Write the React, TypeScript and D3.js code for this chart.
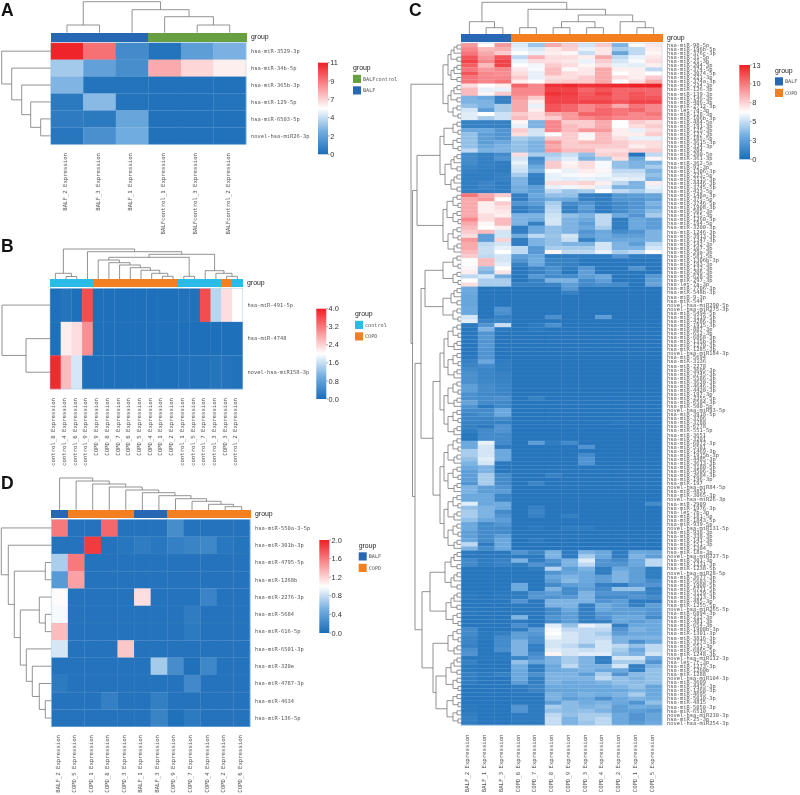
import React from "react";
import * as d3 from "d3";

type Tree = number | any[];

// ---------- Panel A ----------
const aCols = ["BALF_2 Expression","BALF_3 Expression","BALF_1 Expression","BALFcontrol_1 Expression","BALFcontrol_3 Expression","BALFcontrol_2 Expression"];
const aRows = ["hsa-miR-3529-3p","hsa-miR-34b-5p","hsa-miR-365b-3p","hsa-miR-129-5p","hsa-miR-6503-5p","novel-hsa-miR26-3p"];
const aGroups = ["BALF","BALF","BALF","BALFcontrol","BALFcontrol","BALFcontrol"];
const aValues = [
  [10.9,9,1.3,0.3,2.1,2.9],
  [3.7,2.2,1.4,7.6,6.5,5.9],
  [3,0.3,0.3,0.2,0.2,0.2],
  [0.5,3.2,0.3,0.2,0.2,0.3],
  [0.6,0.5,2.4,0.2,0.2,0.2],
  [0.4,1.5,2.7,0.2,0.2,0.2],
];
const aColTree: Tree = [31,[7.7,0,0],[23,0,[16,0,[7.7,0,0]]]];
const aRowTree: Tree = [49,0,[39,0,[29,0,[20,0,[10,0,0]]]]];
const aTicks = [0,2.2,4.4,6.6,8.8,11];
const aTickLabels = ["0","2","4","7","9","11"];

// ---------- Panel B ----------
const bCols = ["control_8","control_4","control_6","control_9","COPD_9","COPD_8","COPD_7","COPD_6","COPD_5","COPD_4","COPD_1","COPD_2","control_1","control_5","control_7","control_3","COPD_3","control_2"].map(s=>s+" Expression");
const bRows = ["hsa-miR-491-5p","hsa-miR-4748","novel-hsa-miR158-3p"];
const bGroups = ["control","control","control","control","COPD","COPD","COPD","COPD","COPD","COPD","COPD","COPD","control","control","control","control","COPD","control"];
const bValues = [
  [0.05,0.12,0.05,3.6,0.05,0.05,0.05,0.05,0.05,0.05,0.05,0.05,0.08,0.08,3.6,1.5,2.3,2.02],
  [0.05,2.15,2.3,3,0.05,0.05,0.05,0.05,0.05,0.05,0.05,0.05,0.05,0.05,0.05,0.05,0.05,0.05],
  [3.9,2.6,1.7,0.05,0.05,0.05,0.05,0.05,0.05,0.05,0.05,0.05,0.07,0.07,0.07,0.12,0.1,0.07],
];
const bColTree: Tree = [30,[5.7,0,[2.5,0,0]],[27.3,0,[24.7,[21.7,[19,0,[16.3,0,[14,0,[11.3,0,[8.7,0,[5.7,0,[2.7,0,0]]]]]]],[2.7,0,0]],[8.3,0,[5.7,0,[2.7,0,0]]]]]];
const bRowTree: Tree = [48,0,[24,0,0]];
const bTicks = [0,0.8,1.6,2.4,3.2,4];
const bTickLabels = ["0.0","0.8","1.6","2.4","3.2","4.0"];

// ---------- Panel D ----------
const dCols = ["BALF_2","COPD_5","COPD_1","COPD_8","COPD_3","BALF_1","BALF_3","COPD_9","COPD_7","COPD_4","COPD_2","COPD_6"].map(s=>s+" Expression");
const dRows = ["hsa-miR-550a-3-5p","hsa-miR-301b-3p","hsa-miR-4795-5p","hsa-miR-1268b","hsa-miR-2276-3p","hsa-miR-5684","hsa-miR-616-5p","hsa-miR-6501-3p","hsa-miR-320e","hsa-miR-4787-3p","hsa-miR-4634","hsa-miR-136-5p"];
const dGroups = ["BALF","COPD","COPD","COPD","COPD","BALF","BALF","COPD","COPD","COPD","COPD","COPD"];
const dValues = [
  [1.6,0.05,0.05,1.68,0.05,0.05,0.05,0.25,0.05,0.05,0.05,0.05],
  [0.05,0.05,1.88,0.05,0.07,0.12,0.08,0.15,0.18,0.2,0.08,0.06],
  [0.7,1.6,0.05,0.05,0.05,0.05,0.05,0.05,0.05,0.05,0.05,0.05],
  [0.35,1.42,0.05,0.05,0.05,0.05,0.05,0.05,0.05,0.05,0.05,0.05],
  [1.02,0.05,0.05,0.05,0.05,1.15,0.05,0.05,0.05,0.17,0.05,0.05],
  [0.97,0.05,0.05,0.05,0.05,0.05,0.05,0.05,0.12,0.05,0.05,0.05],
  [1.3,0.05,0.05,0.05,0.05,0.05,0.05,0.05,0.1,0.05,0.05,0.05],
  [0.85,0.05,0.05,0.05,1.25,0.05,0.05,0.05,0.05,0.05,0.05,0.05],
  [0.05,0.05,0.05,0.05,0.05,0.05,0.68,0.25,0.03,0.2,0.05,0.05],
  [0.1,0.05,0.05,0.05,0.05,0.05,0.05,0.05,0.22,0.05,0.05,0.05],
  [0.05,0.05,0.05,0.15,0.05,0.05,0.14,0.05,0.05,0.05,0.05,0.05],
  [0.05,0.05,0.05,0.05,0.05,0.05,0.18,0.03,0.1,0.05,0.05,0.05],
];
const dColTree: Tree = [32,0,[29,0,[26,0,[23,0,[20,0,[17.3,0,[14.3,0,[11.3,0,[8.7,0,[5.7,0,[3.3,0,0]]]]]]]]]]];
const dRowTree: Tree = [50,0,[43,0,[37,[6,0,0],[31,[12,0,[6,0,0]],[25,0,[19,0,[12,0,[6,0,0]]]]]]]];
const dTicks = [0,0.4,0.8,1.2,1.6,2];
const dTickLabels = ["0.0","0.4","0.8","1.2","1.6","2.0"];

// ---------- Panel C ----------
const cCols = ["BALF_2","BALF_1","BALF_3","COPD_6","COPD_7","COPD_8","COPD_9","COPD_3","COPD_4","COPD_2","COPD_1","COPD_5"].map(s=>s+" Expression");
const cGroups = ["BALF","BALF","BALF","COPD","COPD","COPD","COPD","COPD","COPD","COPD","COPD","COPD"];
const cRows = [
"hsa-miR-98-5p","hsa-miR-196b-5p","hsa-miR-376c-3p","hsa-miR-31-5p","hsa-miR-21-3p","hsa-miR-204-3p","hsa-miR-374-5p","hsa-miR-3074-5p","hsa-miR-221-3p","hsa-miR-374a-3p",
"hsa-miR-224-3p","hsa-miR-126-3p","hsa-miR-139-3p","hsa-miR-146-3p","hsa-miR-486-3p","hsa-miR-2712-3p","hsa-let-7d-3p","hsa-miR-128-3p","hsa-miR-106b-3p","hsa-miR-484-5p",
"hsa-miR-191-3p","hsa-miR-125-3p","hsa-miR-127-3p","hsa-miR-185-5p","hsa-miR-3615-3p","hsa-miR-324-3p","hsa-miR-204","hsa-miR-200-5p","hsa-miR-361-3p","hsa-miR-362-5p",
"hsa-miR-92-3p","hsa-miR-1306-3p","hsa-miR-223-5p","hsa-miR-2115-3p","hsa-miR-4446-3p","hsa-miR-3745-5p","hsa-miR-423-5p","hsa-miR-148a-3p","hsa-miR-375-5p","hsa-miR-3746-5p",
"hsa-miR-1908-3p","hsa-miR-505-3p","hsa-miR-155-3p","hsa-miR-1260-3p","hsa-miR-194-5p","hsa-miR-3200-3p","hsa-miR-1246-3p","hsa-miR-3913-3p","hsa-miR-1247-3p","hsa-miR-142-3p",
"hsa-miR-107-3p","hsa-miR-29a-3p","hsa-miR-581-5p","hsa-miR-1306b-3p","hsa-miR-193-3p","hsa-miR-132-3p","hsa-miR-206-3p","hsa-miR-628-3p","hsa-miR-297-3p","hsa-let-7a-3p",
"hsa-miR-7706-3p","hsa-miR-548b-3p","hsa-miR-9-3p","hsa-miR-544","novel-hsa-miR290-5p","novel-hsa-miR275-3p","hsa-miR-5494-5p","hsa-miR-3119-5p","hsa-miR-4286-3p","hsa-miR-1915-3p",
"hsa-miR-887-3p","hsa-miR-652-3p","hsa-miR-6868-3p","hsa-miR-135b-3p","hsa-miR-1270-3p","hsa-miR-1285-3p","novel-hsa-miR184-3p","hsa-miR-5694","hsa-miR-3136","hsa-miR-2278",
"hsa-miR-3605-3p","hsa-miR-3745-3p","hsa-miR-5586-3p","hsa-miR-3620-3p","hsa-miR-4646-3p","hsa-miR-4420-3p","hsa-miR-197-3p","hsa-miR-2355-5p","hsa-miR-6504-3p","hsa-miR-500-5p",
"novel-hsa-miR93-5p","hsa-miR-3918-5p","hsa-miR-3706","hsa-miR-3788","hsa-miR-6778","hsa-miR-551-5p","hsa-miR-3651","hsa-miR-3201","hsa-miR-6872-3p","hsa-miR-5581",
"hsa-miR-1469-3p","hsa-miR-1915b-3p","hsa-miR-4485-3p","hsa-miR-3613-3p","hsa-miR-3180-5p","hsa-miR-4506-3p","hsa-miR-2684-3p","hsa-miR-196-3p","hsa-miR-197","novel-hsa-miR84-5p",
"hsa-miR-4851","hsa-miR-3065-3p","novel-hsa-miR26-3p","hsa-miR-2909","hsa-miR-1976-3p","hsa-let-7b-3p","hsa-miR-181-5p","hsa-miR-1843-5p","hsa-miR-939-5p","novel-hsa-miR131-5p",
"hsa-miR-938-3p","hsa-miR-338-3p","hsa-miR-141-3p","hsa-miR-151-3p","hsa-miR-1304","hsa-miR-18a-3p","novel-hsa-miR227-5p","hsa-miR-301-3p","hsa-miR-1231-3p","hsa-miR-1238-5p",
"novel-hsa-miR28-5p","hsa-miR-3677-3p","hsa-miR-5683-3p","hsa-miR-1908-5p","hsa-miR-6721-5p","hsa-miR-3129-5p","hsa-miR-3213-3p","hsa-miR-485-3p","hsa-miR-1255-5p","novel-hsa-miR265-5p",
"hsa-miR-6894-3p","hsa-miR-212-3p","hsa-miR-481-3p","hsa-miR-654-3p","hsa-miR-1908b-3p","hsa-miR-1301-3p","hsa-miR-3816-3p","hsa-miR-3173-3p","hsa-miR-551-3p","hsa-miR-6865-5p",
"hsa-miR-1248-3p","novel-hsa-miR112-3p","hsa-let-7f-3p","hsa-miR-1273-3p","hsa-miR-1260b","hsa-miR-1288","novel-hsa-miR104-3p","hsa-miR-3609","hsa-miR-4435-3p","hsa-miR-1268-3p",
"hsa-miR-4695","hsa-miR-5010-3p","hsa-miR-4815","hsa-miR-5050-3p","hsa-miR-6510","novel-hsa-miR230-3p","hsa-miR-25-3p","novel-hsa-miR254-3p",
];
const cValues = [
[9.5,6.5,9.5,5.7,4.2,9,8,5.5,8,3.5,6.7,7.2],
[10,8.5,8.8,6,5.6,7.2,7.8,6,7.2,4.5,5,7],
[10.5,9,8,6.5,6,7,6.8,5.2,7.2,2.8,5,6.8],
[11.5,9.5,11.5,5,8.7,7.5,7.5,7,9,5,6,7.2],
[12,10,12,6,7.5,7.5,7.2,6,8,5.5,6.3,7.5],
[11.2,8.5,12,6.5,6.2,8,7.5,6.8,7.5,6,5.8,7],
[10.5,9.5,10,7.2,6.3,8.5,6.7,7.2,9,7,7,5],
[11.5,10,9.8,7.5,6,8.5,7.5,7.2,9,6.5,7,6.5],
[10.5,10,10,8,6,7.5,7.5,8,9,7.5,7,8],
[10.5,10,10.5,7,6.5,7.8,8,8,9,6.5,7.5,9],
[7.5,6.5,7,11,10,12.5,12.8,12.5,12.6,12.8,13,13],
[8.5,6,6,10,10,12,12,11,11.5,11,11,11],
[8.5,6.8,8,10,10,12.5,12.2,11.3,12,11,11.5,11],
[3.5,3,1,9.5,8,12,12,11.5,11.5,11,11.5,11.5],
[3.5,3.5,1,9,7,12,12,12,12,11.5,12,12],
[4,3.5,4.5,9,6,11.5,11,10,10.5,9,10.5,10],
[5.5,2.5,4.5,9,7,11.5,11,10,11,10.5,11,10],
[5.8,6.5,5.3,8,7.5,9,9.5,11,11,10.5,10,10.5],
[5.8,4.5,5.3,8.5,7.5,8,9.5,10,10.5,10,10,10],
[1,1,1,6.8,3.5,10,8,8,9,6.5,8,7.5],
[1,1,1,6,3.5,10,8.5,8,9,6.5,7.5,8],
[3,3,2,8,5.5,10,8.5,9.5,9.5,7,6,7.5],
[4,2.5,2,7.5,5.5,6.5,8,6.8,8.5,7,7,8],
[4,2.5,2,4.5,4,8,8,6.8,8.5,7.5,6,6],
[4,2.5,3,4,3.5,9.5,8,8.5,8.5,8,7.5,7.5],
[4,3,3.5,4,3.5,9,8,8,8,8,7,7.5],
[5,3.5,3.5,4,3.5,9.5,8.5,8.5,7.5,7.5,8,8],
[1.5,1,1.5,7.5,4.5,4.5,5.2,4,7.8,8,0.5,5],
[1.5,1,2,5.5,1.5,5,5.8,3.5,4.5,7.5,3,6.8],
[1.5,1,0.8,6,2,8,6.8,7.5,6.3,4,3.5,3.5],
[1.2,1,0.8,5.5,3,8,7,7.5,6.3,4,3.5,4.5],
[1,0.8,0.7,5.3,3.5,6.5,6,7,6.8,5,5,3.5],
[0.8,0.8,1,4.5,1,6,6.3,6.7,6.2,5.5,5.5,4],
[0.8,0.8,1,3.5,0.8,6,5.8,6,5.8,6,5.8,3.5],
[0.8,1.2,0.8,3.5,0.8,7.5,7.5,7.8,7,5,3.5,7],
[0.8,1.2,0.8,3.2,2.5,6,6.2,7,5.8,3.5,3.5,6],
[0.8,0.8,0.8,3.2,2.5,5,4.2,4.5,6.5,5,4.5,5.5],
[10.5,9,8,0.8,3,4,4,1,0.8,2.2,2.5,2.8],
[9,9.5,6.5,0.8,2.5,3.2,3,1,0.8,2,2,2.5],
[9,7,8,2,2.5,4.5,1.5,2,1,1.5,2,3.5],
[9,7,7.5,0.8,1.5,4.8,1,2.5,0.8,1.5,2,3],
[9,7,7.2,0.8,1.5,5,1,2,0.8,1.5,2.5,3.8],
[9,7.5,7,3.5,3.5,5.3,4,3.5,5,3,2,4.5],
[10,7.5,8.5,3.5,3.2,5.5,3.5,3,5,0.8,3,2.5],
[9,6.7,8.5,3.5,1,5.5,3.5,2.5,5,0.8,3,2.5],
[8.5,6.5,7,0.8,3,4,3.5,3,4.5,0.8,3,2.5],
[8,8.5,5.5,0.8,3,4,3.5,2,3,1.5,2,3.5],
[7.5,2.5,5.5,3.2,5,4.2,5.5,2.5,3.2,2.5,2.5,3.5],
[9.5,2.5,7.8,0.8,3.5,4,5.2,1,3,3,3,3.5],
[9,5,5.5,0.8,3.5,4,3.5,3.5,5.5,3.5,2.5,5],
[9,5.2,6,5,2.2,4.5,4.5,4.5,5.5,3.5,3.5,5.5],
[8.5,5.2,6.5,5,2.2,6.8,5,5,6,4.5,5,6.6],
[8,5,5.5,2.5,3,0.8,0.8,0.8,0.8,2,0.8,0.8],
[6.5,8.5,5.5,2,3.2,1.2,1,0.5,0.5,0.5,0.5,0.5],
[6.6,8.5,5.8,1,3,1.2,1,0.5,0.5,0.5,0.5,0.5],
[6.8,4,6.6,0.5,1.2,1.8,0.8,2.2,0.5,0.5,2,0.5],
[7,3.5,7.3,0.5,1,1.8,0.5,2.5,0.5,0.5,0.5,0.5],
[5,5.5,3.2,0.5,2.2,1.5,1.5,2.5,3,0.5,0.5,2.2],
[6.5,4.5,4.5,0.5,1,3.5,3.5,1.5,2.5,0.5,0.5,2.5],
[7.5,4.5,4.5,1,1,1.2,2.5,1.5,1.8,1.5,0.5,2.8],
[3,0.4,0.4,0.4,0.4,0.4,2.2,0.4,0.4,0.4,0.4,0.4],
[3,0.4,0.4,0.4,0.4,0.4,1,0.4,0.4,0.4,0.4,0.4],
[2.8,0.4,0.4,0.4,0.4,0.4,0.4,0.4,0.4,0.4,0.4,0.4],
[2.8,0.4,0.4,0.4,0.4,0.4,0.4,0.4,0.4,0.4,0.4,0.4],
[2.8,0.4,0.4,0.4,0.4,0.4,0.4,0.4,0.4,0.4,0.4,0.4],
[3,0.4,2,0.4,0.4,0.4,0.4,0.4,0.4,0.4,0.4,0.4],
[3,0.4,1.8,0.4,0.4,0.4,0.4,0.4,0.4,0.4,0.4,0.4],
[5.5,0.5,1,0.4,0.4,1.8,0.4,0.4,2.5,0.4,0.4,0.4],
[5.8,1,1.2,0.4,0.4,0.5,0.4,0.4,0.4,0.4,0.4,0.4],
[0.6,2,5.2,0.4,0.7,1.8,0.4,0.4,0.4,0.4,0.4,0.4],
[0.5,3.5,0.6,0.4,0.6,0.4,0.4,0.4,0.4,0.4,0.4,0.4],
[0.5,2,0.4,0.4,0.4,0.4,0.4,0.4,0.4,0.4,0.4,0.4],
[0.5,2.2,0.4,0.4,0.4,0.4,0.4,0.4,0.4,0.4,0.4,0.4],
[0.5,2,0.4,0.4,0.4,0.4,0.4,0.4,0.4,0.4,0.4,0.4],
[0.5,2.2,0.4,0.4,0.4,0.4,0.4,0.4,0.4,0.4,0.4,0.4],
[0.5,2,0.4,0.4,0.4,0.4,0.4,0.4,0.4,0.4,0.4,0.4],
[0.5,2,0.4,0.4,0.4,0.4,0.4,0.4,0.4,0.4,0.4,0.4],
[0.6,2,0.4,0.4,0.4,0.4,0.4,0.4,0.4,0.4,0.4,0.4],
[1,3,0.7,0.4,0.4,0.4,0.4,0.4,0.4,0.4,0.4,0.4],
[1.2,1.5,0.8,0.4,0.4,0.4,0.4,0.4,0.4,0.4,0.4,0.4],
[1.5,1.2,0.8,0.4,0.4,0.4,0.4,0.4,0.4,0.4,0.4,0.4],
[1.8,1.2,1,0.4,0.4,0.4,0.4,0.4,0.4,0.4,0.4,0.4],
[1.8,1.2,1,0.4,0.4,0.4,0.4,0.4,0.4,0.4,0.4,0.4],
[1.8,1.3,1.1,0.4,0.4,0.4,0.4,0.4,0.4,0.4,0.4,0.4],
[2.5,1.5,1.2,0.4,0.4,0.4,0.4,0.4,0.4,0.4,0.4,0.4],
[2.5,1.5,1.2,0.4,0.4,0.4,0.4,0.4,0.4,0.4,0.4,0.4],
[1.8,1.4,1.2,0.4,0.4,0.4,0.4,0.4,0.4,0.4,0.4,0.4],
[1.8,1.6,1.8,0.4,1,0.4,0.4,0.4,0.4,0.4,0.4,0.4],
[2.8,1.5,1.4,0.4,0.4,0.4,0.4,0.4,0.4,0.4,0.4,0.4],
[2,0.6,1.4,0.4,0.4,0.4,0.4,0.4,0.4,0.4,0.4,0.4],
[1.5,1.5,3,0.4,0.4,0.4,0.4,0.4,0.4,0.4,0.4,0.4],
[1.2,1.6,3,0.4,0.4,0.4,0.4,0.4,0.4,0.4,0.4,0.4],
[1.2,1.2,1.5,0.4,0.4,0.4,0.4,0.4,0.4,0.4,0.4,0.4],
[1,1,1,0.4,0.4,0.4,0.4,0.4,0.4,0.6,0.4,0.4],
[1,0.7,2,0.4,0.4,0.4,0.4,0.4,0.4,0.4,0.4,0.4],
[0.8,1.5,2,0.4,0.4,0.4,0.4,0.4,0.4,0.4,0.4,0.4],
[0.5,1.5,1.5,0.4,0.4,0.4,0.4,0.4,0.4,0.4,0.4,0.4],
[0.5,1.5,1.5,0.4,0.4,0.4,0.4,0.4,0.4,0.4,0.4,0.4],
[3,6,1.5,0.4,2.5,0.8,1.5,0.4,0.4,0.4,0.4,0.4],
[3,5.5,0.8,0.4,0.4,0.4,0.4,2,0.4,0.4,0.4,0.4],
[4.5,5.5,3,0.4,0.4,0.4,0.4,0.4,0.4,0.4,0.4,0.4],
[4.5,5.5,3,0.4,0.4,0.4,0.4,1.5,0.4,0.4,0.4,0.4],
[4,5.8,3,0.4,0.4,0.4,0.4,2,0.4,0.4,0.4,0.4],
[3.5,5.5,0.6,0.4,0.4,0.4,0.4,2,0.4,0.4,0.4,0.4],
[3,3.5,0.5,0.4,0.4,0.4,0.4,0.4,0.4,0.4,0.4,0.4],
[2.5,3.5,0.5,0.4,0.4,0.4,0.4,0.4,0.4,0.4,0.4,0.4],
[2.5,4.5,1.5,0.4,0.4,1,0.4,0.4,0.4,0.4,0.4,0.4],
[2.5,4.5,1.5,0.4,0.4,0.4,0.4,0.4,0.4,0.4,0.4,0.4],
[2,4.5,1.5,0.4,1.2,0.4,0.4,0.4,0.4,0.4,0.4,0.4],
[3.5,2.5,2,0.4,0.4,0.4,0.4,0.4,0.4,0.4,0.4,0.4],
[3.5,2.5,2.5,0.4,0.4,0.4,0.4,0.4,0.4,0.4,0.4,0.4],
[3,3,1.2,0.4,0.4,0.4,0.4,0.4,0.4,0.4,0.4,0.4],
[3,3,1.2,0.4,0.4,0.4,0.4,0.4,0.4,0.4,0.4,0.4],
[5.8,3,3.2,0.4,0.4,0.4,0.4,0.4,0.4,0.4,0.4,1.5],
[4,3.5,3,0.4,1,0.4,0.4,0.4,0.4,0.4,0.4,0.4],
[4.5,3.5,1.5,0.4,1.2,0.4,0.4,0.4,0.4,0.4,0.4,0.4],
[4.5,3.5,2,0.4,1,0.4,0.9,0.4,0.4,0.4,0.4,0.4],
[4,3,2.5,0.4,0.4,0.4,0.4,0.4,0.4,0.4,0.4,0.4],
[3,1.5,2,0.4,0.4,0.4,0.4,0.4,0.4,0.4,0.4,0.4],
[3,1.5,1.5,0.4,0.6,0.4,0.7,0.7,0.4,0.4,0.4,0.4],
[2.5,1.5,1.5,0.4,0.4,0.4,0.4,0.4,0.4,0.4,0.4,0.4],
[2.5,1.5,2.5,0.4,0.4,0.4,0.4,0.4,0.4,0.4,0.4,0.4],
[3,1.5,3,0.4,0.7,0.4,0.4,0.4,0.4,0.4,0.4,0.4],
[5,0.7,3,0.4,0.4,0.4,0.4,0.4,0.4,0.4,0.4,0.4],
[3.5,1.5,3,0.4,0.4,0.4,0.4,0.4,0.4,0.4,0.4,0.4],
[0.6,0.5,0.6,2,1.2,3.5,0.7,3.5,3,0.7,3,2.8],
[0.6,0.6,0.6,0.6,0.6,3.5,0.7,4.5,3,0.8,3.5,2.5],
[1.5,0.8,1.1,3.5,0.8,2,3.5,5.8,2,1.5,3,5],
[1.5,0.8,1.1,0.8,2,1.5,3.5,5,2,2,3,5],
[0.5,0.5,0.5,0.5,0.8,4.8,2.5,3.5,0.8,3,2.5,0.8],
[0.5,0.5,0.5,0.5,0.5,2,2.8,3,0.8,3.5,2.5,0.8],
[0.5,0.5,0.5,0.5,0.5,3,3.5,3,2.5,3.5,2.5,0.8],
[0.5,0.5,0.5,0.5,0.5,2.5,3.8,3,2.5,3.5,2.5,1.5],
[0.5,0.5,0.5,3,0.5,1.5,2.5,2.8,1,0.7,2,2],
[0.5,0.5,0.5,3,0.5,3.5,1.5,2.5,1.5,4,4,0.9],
[0.6,0.5,0.6,0.8,2,2.5,1.5,3.5,2,2,1.8,1],
[0.6,0.5,0.6,0.8,2.2,2,2.2,3.5,1.5,1.5,2,1.5],
[0.5,0.5,0.5,2,0.6,3.5,3.5,3.5,2,2.5,0.7,0.7],
[0.5,0.5,0.5,0.6,0.6,3.5,3.5,0.9,3.2,2.5,1,2.5],
[0.6,0.5,0.5,0.6,0.6,1.5,3,0.9,3,2.5,2.5,2.2],
[0.6,0.5,0.5,0.6,0.6,1.5,2.5,1,2.2,2.5,2.5,2],
[0.5,0.5,0.5,3.5,0.5,2,2.5,0.9,2,3,3,1.5],
[0.5,0.5,0.5,0.7,0.5,1.5,2.5,0.9,1,3,2.5,3],
[0.5,0.5,0.5,1.8,0.6,5.8,4,6,5.5,0.9,3,3],
[1.5,0.5,0.5,0.8,2.5,6.3,5,5,5,2,3.5,3],
[1.5,0.6,0.9,2.5,2.2,6.5,5.5,5,4.5,2.5,3,3],
[1.2,0.6,1.5,2.5,1.8,6.1,5.5,5,5,3.5,3.5,3.5],
[1.2,0.5,1.5,3.5,1.8,5.5,5.5,5,5.5,3.5,1.8,3],
[1,0.5,1.5,3.5,0.9,5.5,5,4,5.5,5,4,5],
[1.8,0.5,1.8,3.5,0.9,5.8,5.5,5.2,5.5,4.5,3,5],
[2,0.5,0.6,3.5,1.5,6.8,5.5,5.8,5.8,4,3.5,5.5],
[0.6,0.6,0.6,1.2,2,3.5,4.5,3.5,0.9,5.5,5.5,3],
[1,0.5,0.5,4,2.8,3.5,4.5,3.5,0.9,4.5,4.5,2],
[0.6,0.5,0.5,3.2,0.8,3,5,3.5,3.5,5.5,0.9,3.5],
[0.6,0.5,0.5,3,0.8,3,3.2,3.5,3,3,0.9,4],
[1,0.6,1,3,1.8,3.5,3.5,2.5,4.5,2,3.8,4],
[0.8,0.5,0.5,3,0.9,3.5,3.5,3.5,5,4,3.5,4],
[0.8,0.5,0.5,2.5,0.9,3.5,3,3.2,3.5,4,3.8,4],
[0.5,0.5,0.5,0.8,1.2,3,3,3,3,3.5,4,2.8],
[0.5,0.5,0.5,0.7,1.2,2.8,2.8,3,3,3,3.5,3],
[0.5,0.5,0.5,0.6,0.6,3.5,3,3.5,3.2,3.5,4.5,3],
[0.5,0.5,0.5,0.6,0.6,3.5,2.5,3,1.8,3,3.5,3.2],
[0.5,0.5,0.5,0.6,0.6,2.5,3.8,3.2,3.5,3,2,4],
[0.6,0.5,0.5,2,0.7,4.5,3.8,3.5,3.8,2.5,3.2,3],
[0.6,0.5,0.5,2,0.7,4,3.8,4,3.5,2.5,2.5,2.2],
[0.8,0.5,0.5,0.7,0.7,5,4,4.5,4.5,3,2,2.8],
[1,0.5,0.5,0.7,0.7,5.2,3.5,4.5,5,3,2,2.8],
[0.8,0.5,0.5,0.6,0.6,5.2,3.5,4.2,5,3,2.3,3],
];
const cColTree: Tree = [31.7,[12.3,0,[6.3,0,0]],[24.7,[6.3,0,0],[19,[12.3,[6.3,0,0],[6.3,0,0]],[12.3,0,[6.3,0,0]]]]];
// row clusters of the big dendrogram, named by their leaf count
const c3: Tree = [7,[4,0,0],0];
const c4: Tree = [8,[4,0,0],[3,0,0]];
const c5: Tree = [10,[7,[4,0,0],0],[4,0,0]];
const c7: Tree = [13,c4,c3];
const c8: Tree = [14,c4,c4];
const c9: Tree = [15,c5,c4];
const c10: Tree = [16,c5,c5];
const c14: Tree = [17,c7,c7];
const c28: Tree = [21,c14,c14];
const cRowTree: Tree = [50,
  [18,[13,c5,c5],[13,c5,c4]],
  [48.5,
    [44,[21,[17,c4,c4],c10],[18,c8,c7]],
    [46,
      [40,[36,[18,c4,c4],[18,c5,c4]],[28,c28,c28]],
      [39,[31,c10,c9],[28,c7,[25,c9,c8]]],
    ],
  ],
];
const cTicks = [0,2.6,5.2,7.8,10.4,13];
const cTickLabels = ["0","3","5","8","10","13"];

// ---------- shared colours ----------
const RAMP_STOPS = [0,0.25,0.5,0.75,1];
const RAMP = ["#1b6db8","#72ade0","#ffffff","#f98f92","#ef2025"];
const GROUP_COLORS: Record<string,string> = {
  BALF: "#2767b3", BALFcontrol: "#67a043", control: "#2bbbe8", COPD: "#f47f20",
};
const MONO = "'DejaVu Sans Mono', monospace";
const SANS = "'Liberation Sans', Arial, sans-serif";

type Box = [number, number, number, number];

function Dendro({tree, positions, base}:{tree:Tree; positions:number[]; base:number}) {
  const root = d3.hierarchy<any>(tree as any, (d:any) => Array.isArray(d) ? d.slice(1) : null);
  const maxH = (tree as any[])[0];
  const hScale = d3.scaleLinear().domain([0,maxH]).range([base, base - maxH]);
  let leaf = 0;
  const pos = new Map<any,number>();
  root.eachAfter((n:any) => {
    if (!n.children) pos.set(n, positions[leaf++]);
    else pos.set(n, d3.mean(n.children, (c:any) => pos.get(c)) as number);
  });
  const segs: string[] = [];
  root.each((n:any) => {
    if (!n.children) return;
    const p = d3.path();
    const h = hScale(n.data[0]);
    const [a,b] = [n.children[0], n.children[n.children.length-1]];
    const ha = a.children ? hScale(a.data[0]) : base;
    const hb = b.children ? hScale(b.data[0]) : base;
    p.moveTo(ha, pos.get(a)!); p.lineTo(h, pos.get(a)!); p.lineTo(h, pos.get(b)!); p.lineTo(hb, pos.get(b)!);
    segs.push(p.toString());
  });
  return <g>{segs.map((d,i)=><path key={i} d={d} fill="none" stroke="#777" strokeWidth={0.8}/>)}</g>;
}

function Heat({box, barTop, values, cols, rows, groups, colTree, rowTree, domainMax, rowFont=5.4, colLabelTop, rowLabelX, groupX, groupY}:{
  box:Box; barTop:number; values:number[][]; cols:string[]; rows:string[]; groups:string[]; colTree:Tree; rowTree:Tree; domainMax:number; rowFont?:number; colLabelTop:number; rowLabelX:number; groupX:number; groupY:number;
}) {
  const [x0,y0,x1,y1] = box;
  const x = d3.scaleBand<number>().domain(d3.range(cols.length)).range([x0,x1]);
  const y = d3.scaleBand<number>().domain(d3.range(rows.length)).range([y0,y1]);
  const color = d3.scaleLinear<string>().domain(RAMP_STOPS.map(s=>s*domainMax)).range(RAMP).interpolate(d3.interpolateRgb);
  const colCenters = d3.range(cols.length).map(i=>x(i)!+x.bandwidth()/2);
  const rowCenters = d3.range(rows.length).map(i=>y(i)!+y.bandwidth()/2);
  const barBottom = y0 - 1.2;
  return <g>
    <g shapeRendering="crispEdges">
      {groups.map((g,i)=><rect key={i} x={x(i)} y={barTop} width={x.bandwidth()+0.5} height={barBottom-barTop} fill={GROUP_COLORS[g]}/>)}
    </g>
    <g>
      {values.map((row,r)=>row.map((v,c)=><rect key={r+"-"+c} x={x(c)} y={y(r)} width={x.bandwidth()+0.3} height={y.bandwidth()+0.3} fill={color(v)}/>))}
    </g>
    <g>
      {rows.slice(1).map((_,r)=><line key={r} x1={x0} x2={x1} y1={y(r+1)} y2={y(r+1)} stroke="#bcd6ee" strokeOpacity={0.2} strokeWidth={0.4}/>)}
    </g>
    <rect x={x0} y={y0} width={x1-x0} height={y1-y0} fill="none" stroke="#a9cdea" strokeOpacity={0.7} strokeWidth={0.7}/>
    <Dendro tree={rowTree} positions={rowCenters} base={x0}/>
    <g transform="matrix(0 1 1 0 0 0)">
      <Dendro tree={colTree} positions={colCenters} base={barTop}/>
    </g>
    <text x={groupX} y={groupY} fontFamily={SANS} fontSize={6.9} fill="#222">group</text>
    {rows.map((t,i)=><text key={t+i} x={rowLabelX} y={rowCenters[i]+rowFont*0.33} fontFamily={MONO} fontSize={rowFont} fill="#555">{t}</text>)}
    {cols.map((t,i)=><text key={t+i} transform={`translate(${colCenters[i]},${colLabelTop}) rotate(-90)`} textAnchor="end" fontFamily={MONO} fontSize={5.65} fill="#555">{t}</text>)}
  </g>;
}

function ColorBar({id, box, max, ticks, labels}:{id:string; box:Box; max:number; ticks:number[]; labels:string[]}) {
  const [x0,y0,x1,y1] = box;
  const y = d3.scaleLinear().domain([0,max]).range([y1,y0]);
  return <g>
    <defs>
      <linearGradient id={id} x1="0" y1="1" x2="0" y2="0">
        {RAMP.map((c,i)=><stop key={c} offset={RAMP_STOPS[i]} stopColor={c}/>)}
      </linearGradient>
    </defs>
    <rect x={x0} y={y0} width={x1-x0} height={y1-y0} fill={`url(#${id})`}/>
    {ticks.map((t,i)=><g key={t}>
      <line x1={x1} x2={x1+1.5} y1={y(t)} y2={y(t)} stroke="#555" strokeWidth={0.6}/>
      <text x={x1+2.3} y={y(t)+2.6} fontFamily={SANS} fontSize={7.4} fill="#333">{labels[i]}</text>
    </g>)}
  </g>;
}

function Legend({x, y, names, step=11.5}:{x:number; y:number; names:string[]; step?:number}) {
  return <g>
    <text x={x} y={y} fontFamily={SANS} fontSize={6.9} fill="#222">group</text>
    {names.map((n,i)=><g key={n}>
      <rect x={x} y={y+4.8+i*step} width={8} height={8.2} fill={GROUP_COLORS[n]}/>
      <text x={x+10} y={y+10.8+i*step} fontFamily={MONO} fontSize={5.2} fill="#555">{n}</text>
    </g>)}
  </g>;
}

const panelLetters: [string,number,number][] = [["A",1,15.8],["B",1,252],["C",409,15.8],["D",1,489]];

export default function App() {
  return <svg width={800} height={795} viewBox="0 0 800 795" style={{position:"absolute",left:0,top:0,display:"block",background:"#fff",filter:"blur(0.3px)"}}>
    {panelLetters.map(([t,x,y])=><text key={t} x={x} y={y} fontFamily={SANS} fontWeight="bold" fontSize={17.5} fill="#111">{t}</text>)}

    <Heat box={[50.7,42.7,246,144.3]} barTop={32.7} values={aValues} cols={aCols} rows={aRows} groups={aGroups} colTree={aColTree} rowTree={aRowTree} domainMax={11} colLabelTop={153} rowLabelX={251} groupX={251} groupY={39}/>
    <ColorBar id="ga" box={[318,62.7,328,154.3]} max={11} ticks={aTicks} labels={aTickLabels}/>
    <Legend x={353} y={70} names={["BALFcontrol","BALF"]}/>

    <Heat box={[50,288.3,242.7,389]} barTop={279} values={bValues} cols={bCols} rows={bRows} groups={bGroups} colTree={bColTree} rowTree={bRowTree} domainMax={4} colLabelTop={398} rowLabelX={247.5} groupX={247} groupY={285}/>
    <ColorBar id="gb" box={[316.3,308.7,326.3,399]} max={4} ticks={bTicks} labels={bTickLabels}/>
    <Legend x={355} y={316} names={["control","COPD"]}/>

    <Heat box={[51.3,519.3,250,726.7]} barTop={510} values={dValues} cols={dCols} rows={dRows} groups={dGroups} colTree={dColTree} rowTree={dRowTree} domainMax={2} colLabelTop={735} rowLabelX={255} groupX={255} groupY={516}/>
    <ColorBar id="gd" box={[319.3,540,329.3,633]} max={2} ticks={dTicks} labels={dTickLabels}/>
    <Legend x={358.7} y={547.5} names={["BALF","COPD"]}/>

    <Heat box={[461,43,662,725]} barTop={34} values={cValues} cols={cCols} rows={cRows} groups={cGroups} colTree={cColTree} rowTree={cRowTree} domainMax={13} colLabelTop={734.5} rowLabelX={667} groupX={667} groupY={40}/>
    <ColorBar id="gc" box={[739.3,65,750,159.3]} max={13} ticks={cTicks} labels={cTickLabels}/>
    <Legend x={775} y={72.5} names={["BALF","COPD"]}/>
  </svg>;
}
